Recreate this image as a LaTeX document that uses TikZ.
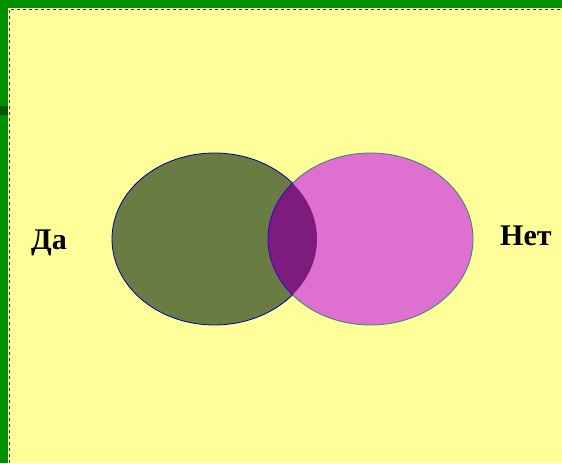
\documentclass[tikz,border=0pt]{standalone}
\usepackage{fontspec}
\setmainfont{Liberation Serif}

\definecolor{slidebg}{RGB}{255,255,153}
\definecolor{framegreen}{RGB}{0,145,0}
\definecolor{yesfill}{RGB}{104,124,68}
\definecolor{nofill}{RGB}{222,112,208}
\definecolor{bothfill}{RGB}{125,28,125}

\tikzset{
    setlabel/.style={font=\bfseries\fontsize{30}{30}\selectfont, inner sep=0pt},
    setedge/.style={line width=0.8pt}
}

\begin{document}
\begin{tikzpicture}[x=1pt, y=-1pt]
    \useasboundingbox (0,0) rectangle (562,463);
    \fill[framegreen] (0,0) rectangle (562,463);
    \fill[slidebg] (8,8) rectangle (562,463);
    \draw[white!85!yellow, line width=1pt] (9,463) -- (9,9) -- (562,9);
    \draw[gray!40!black, line width=1pt, dash pattern=on 3pt off 3pt] (9,463) -- (9,9) -- (562,9);
    \fill[green!35!black] (0,106) rectangle (8,115);

    \coordinate (yes) at (214.5,239);
    \coordinate (no) at (370.5,239);

    \filldraw[setedge, fill=yesfill, draw=blue!60!black] (yes) ellipse (102.5 and 86);
    \filldraw[setedge, fill=nofill, draw=teal!60!gray] (no) ellipse (102.5 and 86);
    % overlap of the two sets
    \begin{scope}
        \clip (yes) ellipse (102.5 and 86);
        \filldraw[setedge, fill=bothfill, draw=blue!70!purple] (no) ellipse (102.5 and 86);
    \end{scope}

    \node[setlabel, anchor=base west] (da) at (31,249) {Да};
    \node[setlabel, anchor=base west] (net) at (500,245) {Нет};
\end{tikzpicture}
\end{document}
